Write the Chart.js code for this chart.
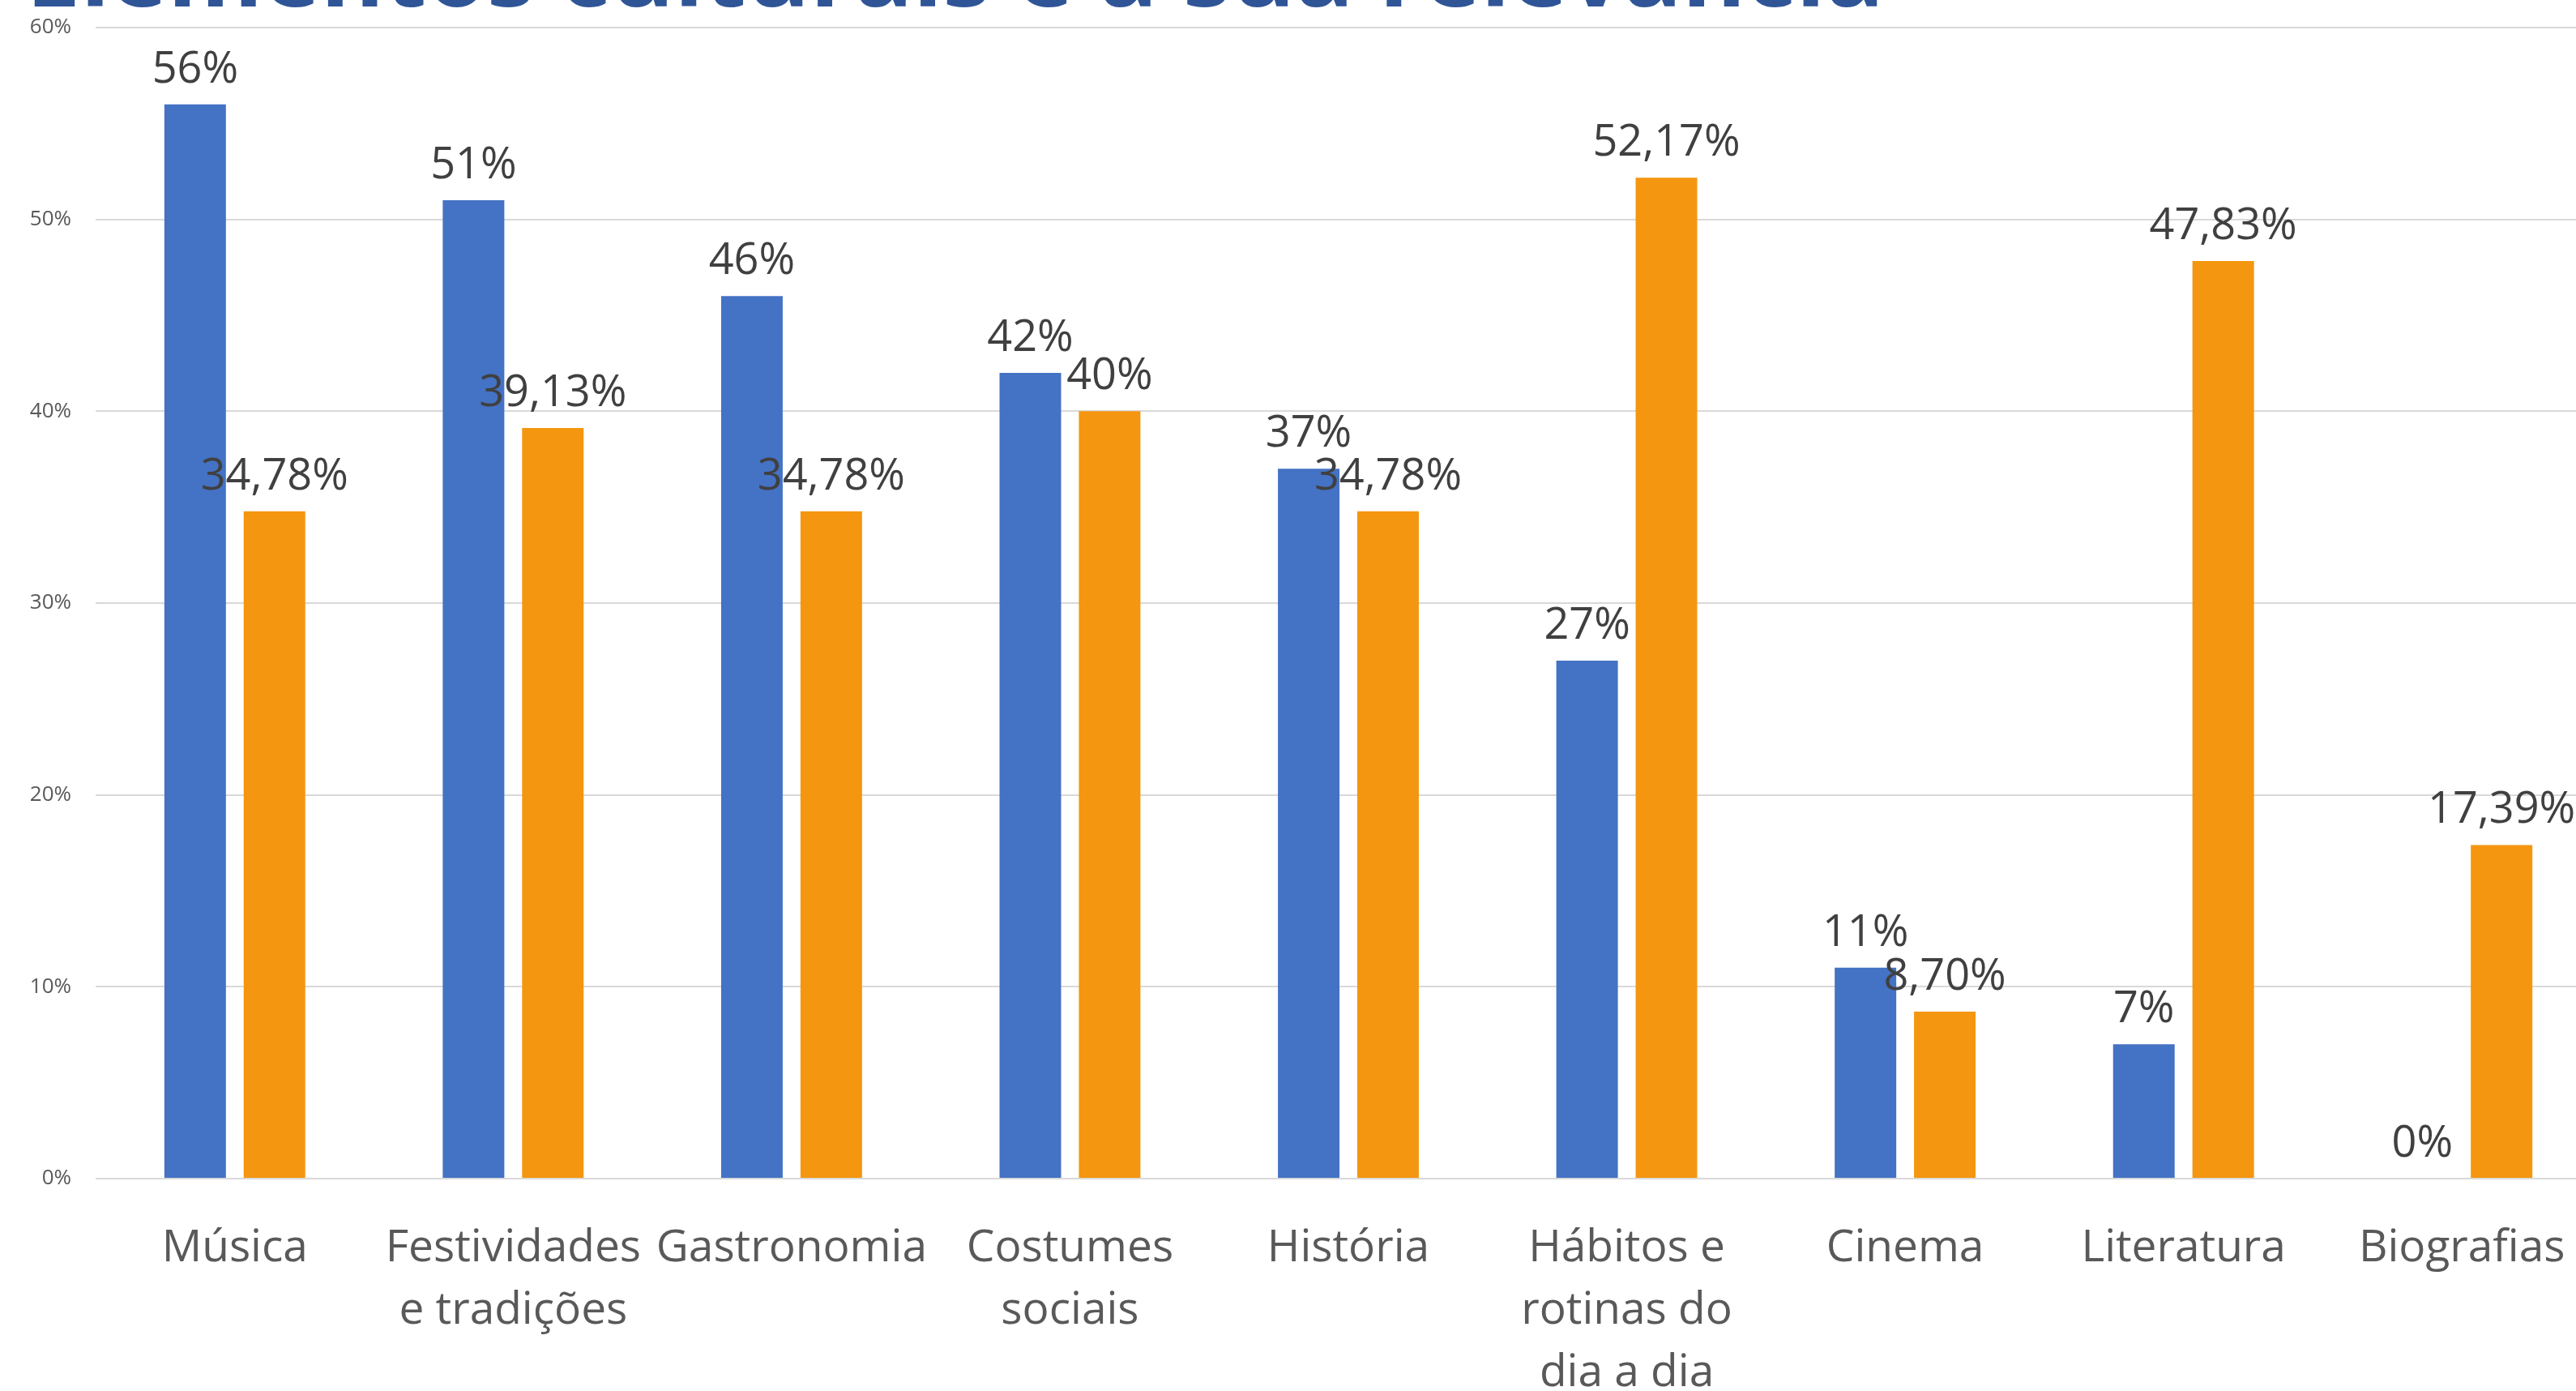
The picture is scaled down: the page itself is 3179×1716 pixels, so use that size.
<!DOCTYPE html>
<html lang="pt">
<head>
<meta charset="utf-8">
<title>Elementos culturais e a sua relevância</title>
<script src="https://cdn.jsdelivr.net/npm/chart.js@4/dist/chart.umd.min.js"></script>
<style>
  html, body { margin: 0; padding: 0; background: #fff; overflow: hidden; }
  #wrap { position: absolute; left: 0; top: 0; width: 3212px; height: 1716px; }
</style>
</head>
<body>
<div id="wrap"><canvas id="chart"></canvas></div>
<script>
const chartTitle = 'Elementos culturais e a sua relevância';
const categories = [
  'Música',
  ['Festividades', 'e tradições'],
  'Gastronomia',
  ['Costumes', 'sociais'],
  'História',
  ['Hábitos e', 'rotinas do', 'dia a dia'],
  'Cinema',
  'Literatura',
  'Biografias',
];
const seriesBlue = [56, 51, 46, 42, 37, 27, 11, 7, 0];
const seriesOrange = [34.78, 39.13, 34.78, 40, 34.78, 52.17, 8.70, 47.83, 17.39];
const yTicks = [0, 10, 20, 30, 40, 50, 60];

function pct(v) {
  return Number.isInteger(v) ? v + '%' : v.toFixed(2).replace('.', ',') + '%';
}

// title sits mostly above the picture, only its bottom edge shows
const cutTitle = {
  id: 'cutTitle',
  afterDraw(chart) {
    const ctx = chart.ctx;
    ctx.save();
    ctx.font = 'bold 120px "Open Sans"';
    ctx.fillStyle = '#2F5597';
    ctx.textAlign = 'left';
    ctx.textBaseline = 'alphabetic';
    ctx.fillText(chartTitle, 32, 8);
    ctx.restore();
  },
};

// value labels above each bar
const barValues = {
  id: 'barValues',
  afterDatasetsDraw(chart) {
    const ctx = chart.ctx;
    ctx.save();
    ctx.font = '54px "Open Sans"';
    ctx.fillStyle = '#404040';
    ctx.textAlign = 'center';
    ctx.textBaseline = 'alphabetic';
    chart.data.datasets.forEach((ds, i) => {
      chart.getDatasetMeta(i).data.forEach((bar, j) => {
        ctx.fillText(pct(ds.data[j]), bar.x, bar.y - 27);
      });
    });
    ctx.restore();
  },
};

new Chart(document.getElementById('chart'), {
  type: 'bar',
  data: {
    labels: categories,
    datasets: [
      { label: 'Série 1', data: seriesBlue, backgroundColor: '#4472C4', categoryPercentage: 0.57, barPercentage: 0.776 },
      { label: 'Série 2', data: seriesOrange, backgroundColor: '#F4960F', categoryPercentage: 0.57, barPercentage: 0.776 },
    ],
  },
  options: {
    responsive: true,
    maintainAspectRatio: false,
    animation: false,
    layout: { padding: { top: 34, right: 2, left: 0, bottom: 0 } },
    plugins: { legend: { display: false }, tooltip: { enabled: false }, title: { display: false } },
    scales: {
      x: {
        grid: { display: false },
        border: { display: false },
        afterFit: (s) => { s.height = 262; },
        ticks: {
          autoSkip: false, maxRotation: 0, minRotation: 0, padding: 40,
          color: '#595959', font: { family: 'Open Sans', size: 55, lineHeight: 1.4 },
        },
      },
      y: {
        min: 0, max: 60,
        afterFit: (s) => { s.width = 118; s.paddingTop = 0; s.paddingBottom = 0; },
        afterBuildTicks: (s) => { s.ticks = yTicks.map((v) => ({ value: v })); },
        border: { display: false },
        grid: { color: '#D9D9D9', lineWidth: 2, drawTicks: false },
        ticks: {
          padding: 30, color: '#595959', font: { family: 'Open Sans', size: 26 },
          callback: (v) => v + '%',
        },
      },
    },
  },
  plugins: [cutTitle, barValues],
});
</script>
</body>
</html>
